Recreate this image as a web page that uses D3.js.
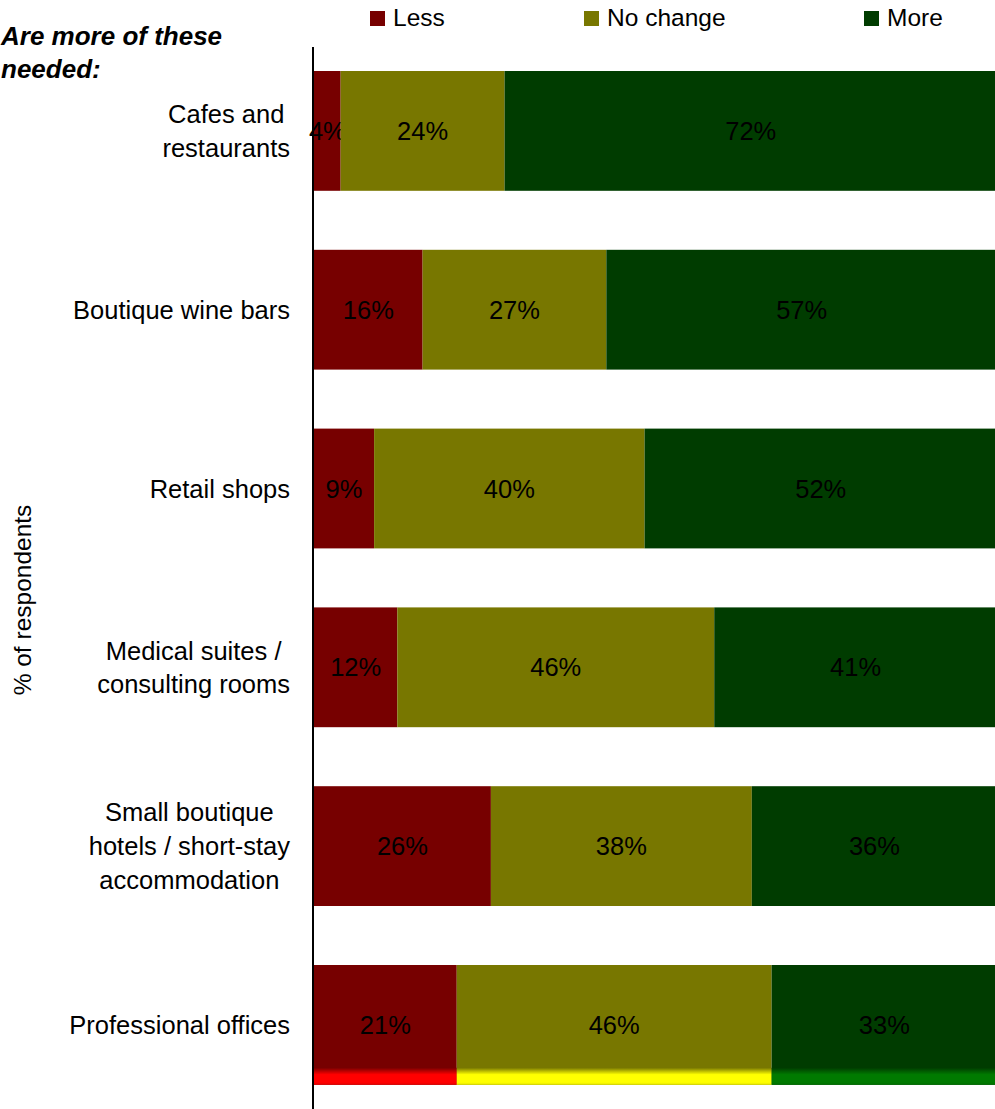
<!DOCTYPE html>
<html>
<head>
<meta charset="utf-8">
<script src="https://cdn.jsdelivr.net/npm/d3@7"></script>
<style>
  html, body { margin: 0; padding: 0; background: #fff; }
  svg { display: block; font-family: "Liberation Sans", Arial, sans-serif; }
</style>
</head>
<body>
<svg id="chart" width="995" height="1109"></svg>
<script>
// Survey categories (top to bottom), label lines for each
const categories = [
  "Cafes and restaurants",
  "Boutique wine bars",
  "Retail shops",
  "Medical suites / consulting rooms",
  "Small boutique hotels / short-stay accommodation",
  "Professional offices"
];
const categoryLines = [
  ["Cafes and", "restaurants"],
  ["Boutique wine bars"],
  ["Retail shops"],
  ["Medical suites /", "consulting rooms"],
  ["Small boutique", "hotels / short-stay", "accommodation"],
  ["Professional offices"]
];

// Response shares (% of respondents)
const seriesNames = ["Less", "No change", "More"];
const lessValues     = [3.9, 15.9, 8.8, 12.2, 25.9, 20.9];
const noChangeValues = [24.0, 26.9, 39.6, 46.4, 38.2, 46.1];
const moreValues     = [72.1, 57.2, 51.6, 41.4, 35.9, 33.0];

const seriesColors = ["#770000", "#787700", "#003c00"];
const glossColors  = ["#ff0000", "#ffff00", "#007a00"];

const rows = categories.map((c, i) => ({
  category: c,
  "Less": lessValues[i],
  "No change": noChangeValues[i],
  "More": moreValues[i]
}));

const svg = d3.select("#chart");
const FONT = 25.5;

const x = d3.scaleLinear().domain([0, 100]).range([314, 997]);
const y = d3.scaleBand().domain(categories)
  .range([41.5, 1114.3]).paddingInner(0.33).paddingOuter(0.165);
const color = d3.scaleOrdinal().domain(seriesNames).range(seriesColors);

const stacked = d3.stack().keys(seriesNames)(rows);

// Gradients for the glossy strip along the bottom of the last bar
const defs = svg.append("defs");
seriesNames.forEach((s, i) => {
  const g = defs.append("linearGradient")
    .attr("id", "gloss" + i).attr("x1", 0).attr("y1", 0).attr("x2", 0).attr("y2", 1);
  g.append("stop").attr("offset", "0%").attr("stop-color", seriesColors[i]);
  g.append("stop").attr("offset", "40%").attr("stop-color", glossColors[i]);
  g.append("stop").attr("offset", "85%").attr("stop-color", glossColors[i]);
  g.append("stop").attr("offset", "100%").attr("stop-color", d3.color(glossColors[i]).darker(0.3));
});

// Stacked bars
const layers = svg.append("g").selectAll("g").data(stacked).join("g")
  .attr("fill", d => color(d.key));

layers.selectAll("rect").data(d => d).join("rect")
  .attr("x", d => x(d[0]))
  .attr("y", d => y(d.data.category))
  .attr("width", d => x(d[1]) - x(d[0]))
  .attr("height", y.bandwidth());

// Glossy highlight on the final bar
const lastCat = categories[categories.length - 1];
const glossH = 17;
svg.append("g").selectAll("rect")
  .data(stacked.map((s, i) => ({ seg: s[s.length - 1], i })))
  .join("rect")
  .attr("x", d => x(d.seg[0]))
  .attr("y", y(lastCat) + y.bandwidth() - glossH)
  .attr("width", d => x(d.seg[1]) - x(d.seg[0]))
  .attr("height", glossH)
  .attr("fill", d => `url(#gloss${d.i})`);

// Value labels
const fmt = d3.format(".0f");
layers.selectAll("text").data(d => d).join("text")
  .attr("x", d => (x(d[0]) + x(d[1])) / 2)
  .attr("y", d => y(d.data.category) + y.bandwidth() / 2)
  .attr("dy", "0.36em")
  .attr("text-anchor", "middle")
  .attr("fill", "#000")
  .style("font-size", FONT + "px")
  .text(d => fmt(d[1] - d[0]) + "%");

// Vertical category axis line
svg.append("line")
  .attr("x1", 313).attr("x2", 313)
  .attr("y1", 47).attr("y2", 1109)
  .attr("stroke", "#000").attr("stroke-width", 2);

// Category labels (multi-line, centred block right-aligned to the axis)
const labelRight = 290;
const lineH = 33.8;
categories.forEach((c, i) => {
  const lines = categoryLines[i];
  const g = svg.append("g");
  const cy = y(c) + y.bandwidth() / 2;
  const texts = lines.map((ln, k) => g.append("text")
    .attr("y", cy + (k - (lines.length - 1) / 2) * lineH)
    .attr("dy", "0.36em")
    .attr("text-anchor", "middle")
    .attr("fill", "#000")
    .style("font-size", FONT + "px")
    .text(ln));
  const maxW = d3.max(texts, t => t.node().getComputedTextLength());
  texts.forEach(t => t.attr("x", labelRight - maxW / 2));
});

// Y axis title
svg.append("text")
  .attr("transform", "translate(31,600) rotate(-90)")
  .attr("text-anchor", "middle")
  .attr("fill", "#000")
  .style("font-size", "24.5px")
  .text("% of respondents");

// Question heading
const heading = svg.append("text")
  .attr("fill", "#000")
  .style("font-size", "26px")
  .style("font-weight", "bold")
  .style("font-style", "italic");
heading.append("tspan").attr("x", 1).attr("y", 45).text("Are more of these");
heading.append("tspan").attr("x", 1).attr("y", 78).text("needed:");

// Legend
const legendX = [370, 584, 864];
const legend = svg.append("g").selectAll("g").data(seriesNames).join("g")
  .attr("transform", (d, i) => `translate(${legendX[i]},11)`);
legend.append("rect").attr("width", 15).attr("height", 15).attr("fill", d => color(d));
legend.append("text")
  .attr("x", 23).attr("y", 15)
  .attr("fill", "#000")
  .style("font-size", "24.5px")
  .text(d => d);
</script>
</body>
</html>
